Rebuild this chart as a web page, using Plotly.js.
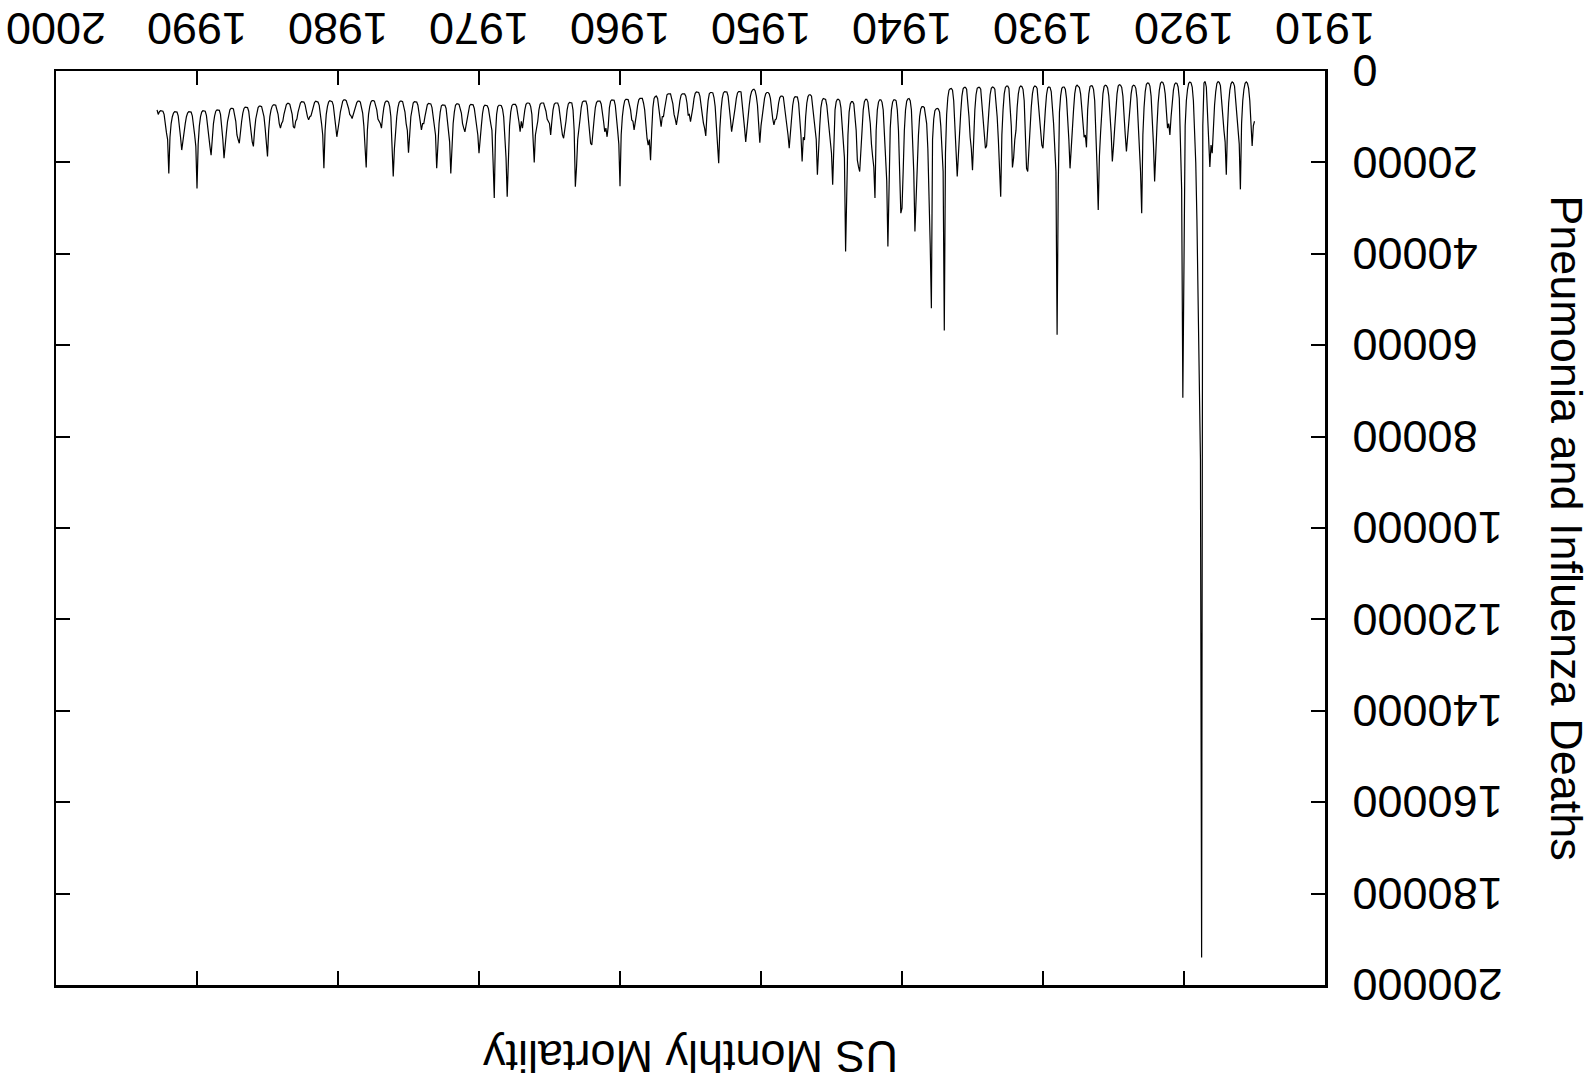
<!DOCTYPE html>
<html>
<head>
<meta charset="utf-8">
<script src="https://cdn.plot.ly/plotly-3.0.1.min.js"></script>
<style>
  html, body { margin: 0; padding: 0; background: #ffffff; overflow: hidden; }
  #chart { width: 1594px; height: 1086px; transform: rotate(180deg); transform-origin: 50% 50%; }
</style>
</head>
<body>
<div id="chart"></div>
<script>
// US monthly pneumonia and influenza deaths, Jan..Dec per row
const firstYear = 1915;
const deaths1910s = [
  11000, 12000, 16400, 11000, 6500, 3800, 2700, 2400, 2700, 4000, 6500, 11500,   // 1915
  25900, 16000, 12500, 9000, 5500, 3300, 2600, 2400, 2800, 4200, 7000, 12500,    // 1916
  22700, 15500, 13000, 9500, 5500, 3200, 2500, 2300, 2700, 4500, 7500, 12500,    // 1917
  18000, 16200, 21000, 15000, 7000, 3500, 2300, 2600, 12000, 194000, 85000, 64000, // 1918
  50000, 32600, 20000, 12000, 6500, 3500, 2600, 2400, 2700, 4000, 6500, 12000    // 1919
];
const deaths1920s = [
  42000, 71500, 26000, 12000, 6000, 3500, 2700, 2600, 2900, 4200, 6500, 10000,   // 1920
  14000, 11500, 12500, 8500, 5000, 3200, 2500, 2400, 2700, 4200, 7000, 12000,    // 1921
  17000, 24200, 16000, 9500, 5500, 3300, 2700, 2600, 2900, 4500, 8000, 14000,    // 1922
  31100, 22000, 16000, 10000, 6000, 3800, 3200, 3100, 3400, 5000, 8000, 12500,   // 1923
  15500, 17600, 14000, 9000, 5500, 3600, 3100, 3000, 3300, 5000, 8000, 12500,    // 1924
  16500, 19800, 13500, 9000, 5500, 3700, 3200, 3100, 3400, 5000, 8500, 13500,    // 1925
  18700, 30400, 21000, 12000, 6500, 4000, 3300, 3200, 3400, 5000, 8500, 16700,   // 1926
  14000, 14500, 11000, 7500, 5000, 3600, 3200, 3100, 3400, 5000, 8500, 13000,    // 1927
  16900, 21300, 15000, 10000, 6000, 4000, 3500, 3500, 3800, 5500, 9000, 25000,   // 1928
  57700, 22000, 15000, 11500, 8000, 4500, 3600, 3500, 3700, 5200, 8500, 14000    // 1929
];
const deaths1930s = [
  16900, 16200, 13000, 8500, 5500, 3800, 3400, 3300, 3600, 5000, 8000, 13000,    // 1930
  16000, 22000, 21300, 12500, 6500, 4000, 3400, 3300, 3600, 5000, 8000, 13000,   // 1931
  15000, 19000, 21100, 12000, 6000, 3800, 3300, 3300, 3600, 5000, 8500, 14000,   // 1932
  27500, 19000, 15000, 10000, 6000, 4000, 3600, 3500, 3800, 5200, 8500, 13000,   // 1933
  16400, 16900, 13500, 9000, 5800, 4000, 3600, 3600, 3800, 5200, 8500, 14000,    // 1934
  21700, 17000, 14500, 10000, 6000, 4000, 3600, 3600, 3900, 5500, 9000, 14500,   // 1935
  19000, 23100, 17500, 11000, 6500, 4200, 3800, 3900, 4200, 5800, 9500, 18000,   // 1936
  56800, 22000, 16000, 12000, 9000, 8300, 8200, 8300, 8700, 10500, 15000, 51900, // 1937
  38000, 26800, 17000, 11500, 9000, 8000, 7800, 7800, 8300, 10000, 14000, 22000, // 1938
  28900, 35100, 22000, 13000, 8500, 6500, 6000, 6100, 6600, 8500, 13000, 22000   // 1939
];
const deaths1940s = [
  30000, 31100, 21000, 13000, 8500, 6500, 6300, 6300, 6800, 8500, 12500, 24000,  // 1940
  38400, 24000, 18000, 12500, 8500, 6800, 6300, 6300, 6800, 8500, 13000, 27800,  // 1941
  21000, 18700, 16000, 11500, 8500, 6800, 6200, 6200, 6700, 8500, 13000, 17000,  // 1942
  22000, 21000, 19500, 13000, 9000, 7200, 6700, 6700, 7200, 9000, 14000, 24000,  // 1943
  39500, 19000, 15000, 11000, 8000, 6500, 6200, 6200, 6700, 8500, 16200, 24900,  // 1944
  18000, 15000, 13000, 10000, 7500, 6200, 6000, 6000, 6500, 8000, 12000, 19500,  // 1945
  22700, 15000, 12500, 9500, 7000, 5500, 5200, 5200, 5600, 7000, 10000, 15100,   // 1946
  14500, 19800, 14000, 9500, 7000, 5700, 5600, 5600, 6000, 7500, 10500, 14000,   // 1947
  16900, 14000, 12000, 9000, 7000, 5700, 5500, 5500, 5800, 7000, 9000, 10500,    // 1948
  10700, 11800, 10500, 8000, 6000, 5000, 4700, 4700, 5000, 6000, 8000, 10500     // 1949
];
const deaths1950s = [
  12000, 15700, 11000, 7500, 5500, 4300, 4000, 4100, 4500, 5500, 7500, 10000,    // 1950
  12000, 15500, 12500, 9500, 6000, 4600, 4500, 4500, 4800, 6000, 8000, 10000,    // 1951
  11100, 13300, 10500, 7500, 5500, 4600, 4500, 4500, 4800, 6000, 8500, 12500,    // 1952
  20200, 15000, 11000, 7800, 5800, 4800, 4700, 4700, 5000, 6500, 9500, 14200,    // 1953
  12500, 11400, 9500, 7000, 5500, 4700, 4600, 4600, 4900, 6000, 8000, 9500,      // 1954
  11100, 9500, 9600, 7000, 5500, 5000, 5000, 5000, 5300, 6500, 8500, 10000,      // 1955
  11800, 10500, 9500, 7200, 5800, 5000, 5000, 5000, 5200, 6500, 8200, 10000,     // 1956
  10000, 12200, 10000, 7500, 6000, 5500, 5600, 6000, 8000, 13000, 19500, 15000,  // 1957
  16200, 14700, 11000, 8500, 7000, 6000, 6000, 6000, 6300, 7500, 9500, 11500,    // 1958
  12900, 11000, 10700, 8500, 7000, 6300, 6200, 6200, 6500, 7800, 10000, 14000    // 1959
];
const deaths1960s = [
  25200, 16000, 13000, 9500, 7500, 6400, 6300, 6300, 6600, 8000, 12000, 14400,  // 1960
  12500, 13300, 11000, 8500, 7200, 6600, 6600, 6600, 6900, 8000, 10500, 13500,  // 1961
  16200, 15800, 12500, 9500, 7500, 6600, 6600, 6600, 6800, 8000, 10500, 13000,  // 1962
  15000, 21000, 25300, 13000, 8500, 7000, 6900, 6900, 7200, 8500, 11000, 13500,  // 1963
  14700, 14000, 12000, 9500, 7800, 7000, 7000, 7000, 7300, 8500, 11000, 14000,  // 1964
  11500, 11000, 10500, 8800, 7500, 7000, 7000, 7000, 7300, 8500, 11000, 13000,  // 1965
  14000, 20000, 15000, 9500, 7800, 7100, 7000, 7000, 7300, 8500, 10500, 12500,  // 1966
  11000, 13300, 11100, 9000, 7800, 7300, 7300, 7300, 7600, 9000, 12000, 18000,  // 1967
  27500, 19000, 13500, 10000, 8300, 7600, 7500, 7500, 7800, 9500, 14000, 27800, // 1968
  20000, 13000, 11500, 9500, 8200, 7600, 7500, 7500, 7800, 9300, 12000, 14500   // 1969
];
const deaths1970s = [
  18000, 14000, 12000, 9500, 8200, 7400, 7300, 7300, 7600, 9000, 11000, 12500,  // 1970
  13300, 12500, 11500, 9200, 8000, 7300, 7200, 7200, 7500, 9000, 11500, 16000,  // 1971
  22400, 15500, 12500, 9800, 8200, 7500, 7400, 7400, 7600, 9000, 11500, 15500,  // 1972
  21300, 14000, 12000, 9500, 8000, 7200, 7100, 7100, 7400, 8500, 10000, 11500,  // 1973
  11500, 12900, 11000, 8800, 7500, 6800, 6700, 6700, 7000, 8200, 10000, 14000,  // 1974
  17900, 13000, 11500, 9000, 7500, 6700, 6600, 6600, 6900, 8000, 10000, 13000,  // 1975
  17000, 23100, 15500, 10000, 7800, 6800, 6600, 6600, 6900, 8000, 10000, 12500, // 1976
  11500, 11000, 10500, 8500, 7300, 6600, 6500, 6500, 6800, 7800, 9500, 13000,   // 1977
  21100, 15000, 12000, 9200, 7600, 6800, 6600, 6600, 6900, 7800, 9200, 10000,   // 1978
  10400, 9800, 9500, 8200, 7200, 6500, 6300, 6300, 6600, 7500, 9000, 11000      // 1979
];
const deaths1980s = [
  12500, 14400, 12000, 9000, 7500, 6700, 6500, 6500, 6800, 7800, 9500, 13000,   // 1980
  21300, 14000, 11500, 9000, 7500, 6800, 6600, 6600, 6900, 7800, 9000, 9800,    // 1981
  10000, 10700, 10000, 8500, 7400, 6800, 6700, 6700, 7000, 7800, 9000, 10500,   // 1982
  11000, 12500, 12200, 9500, 8000, 7300, 7100, 7100, 7400, 8300, 9500, 11000,   // 1983
  11500, 12500, 11500, 9500, 8200, 7500, 7400, 7400, 7700, 8500, 10000, 13000,  // 1984
  18700, 14500, 12500, 10000, 8500, 7800, 7700, 7700, 8000, 9000, 10500, 13000, // 1985
  16500, 15500, 13500, 10500, 8800, 8000, 7900, 7900, 8200, 9200, 11000, 13500, // 1986
  15800, 15000, 14000, 11000, 9200, 8300, 8200, 8200, 8500, 9500, 11000, 13500, // 1987
  16500, 19100, 15000, 11500, 9500, 8600, 8500, 8500, 8800, 9800, 11500, 14500, // 1988
  18400, 16500, 14500, 11500, 9700, 8800, 8700, 8700, 9000, 10000, 12000, 16000 // 1989
];
const deaths1990s = [
  25700, 16500, 14000, 11500, 9800, 9000, 8900, 8900, 9200, 10000, 11500, 13500, // 1990
  15500, 17300, 14500, 11500, 9800, 9000, 8900, 8900, 9200, 10000, 11500, 14500,  // 1991
  22400, 15000, 13500, 11000, 9500, 8800, 8700, 8700, 8900, 9500, 8500            // 1992
];

const chartTitle = 'US Monthly Mortality';
const yTitle = 'Pneumonia and Influenza Deaths';

const deaths = [].concat(deaths1910s, deaths1920s, deaths1930s, deaths1940s,
                         deaths1950s, deaths1960s, deaths1970s, deaths1980s, deaths1990s);
const time = deaths.map((_, i) => firstYear + i / 12);

const font = 'Liberation Sans, Arial, Helvetica, sans-serif';

const trace = {
  x: time, y: deaths, type: 'scatter', mode: 'lines',
  line: { color: '#000000', width: 1.2 },
  hoverinfo: 'x+y'
};

const axisCommon = {
  showgrid: false, zeroline: false, showline: true,
  linecolor: '#000000', linewidth: 2.5, mirror: 'ticks',
  ticks: 'inside', ticklen: 14, tickwidth: 2, tickcolor: '#000000',
  tickfont: { family: font, size: 45, color: '#000000' }
};

const layout = {
  width: 1594, height: 1086,
  margin: { l: 269, r: 56, t: 101, b: 71, pad: 0 },
  paper_bgcolor: '#ffffff', plot_bgcolor: '#ffffff',
  showlegend: false,
  font: { family: font, size: 45, color: '#000000' },
  title: { text: chartTitle, x: 0.5, xref: 'paper', xanchor: 'center',
           y: 1 - 29 / 1086, yref: 'container', yanchor: 'middle',
           font: { family: font, size: 45, color: '#000000' } },
  xaxis: Object.assign({}, axisCommon, {
    range: [1910, 2000], tick0: 1910, dtick: 10, autorange: false,
    ticklabelstandoff: 2
  }),
  yaxis: Object.assign({}, axisCommon, {
    range: [0, 200000], tick0: 0, dtick: 20000, tickformat: 'd', autorange: false,
    ticklabelstandoff: 16,
    title: { text: yTitle, standoff: 34, font: { family: font, size: 45, color: '#000000' } }
  })
};

Plotly.newPlot('chart', [trace], layout, { displayModeBar: false, staticPlot: true });
</script>
</body>
</html>
